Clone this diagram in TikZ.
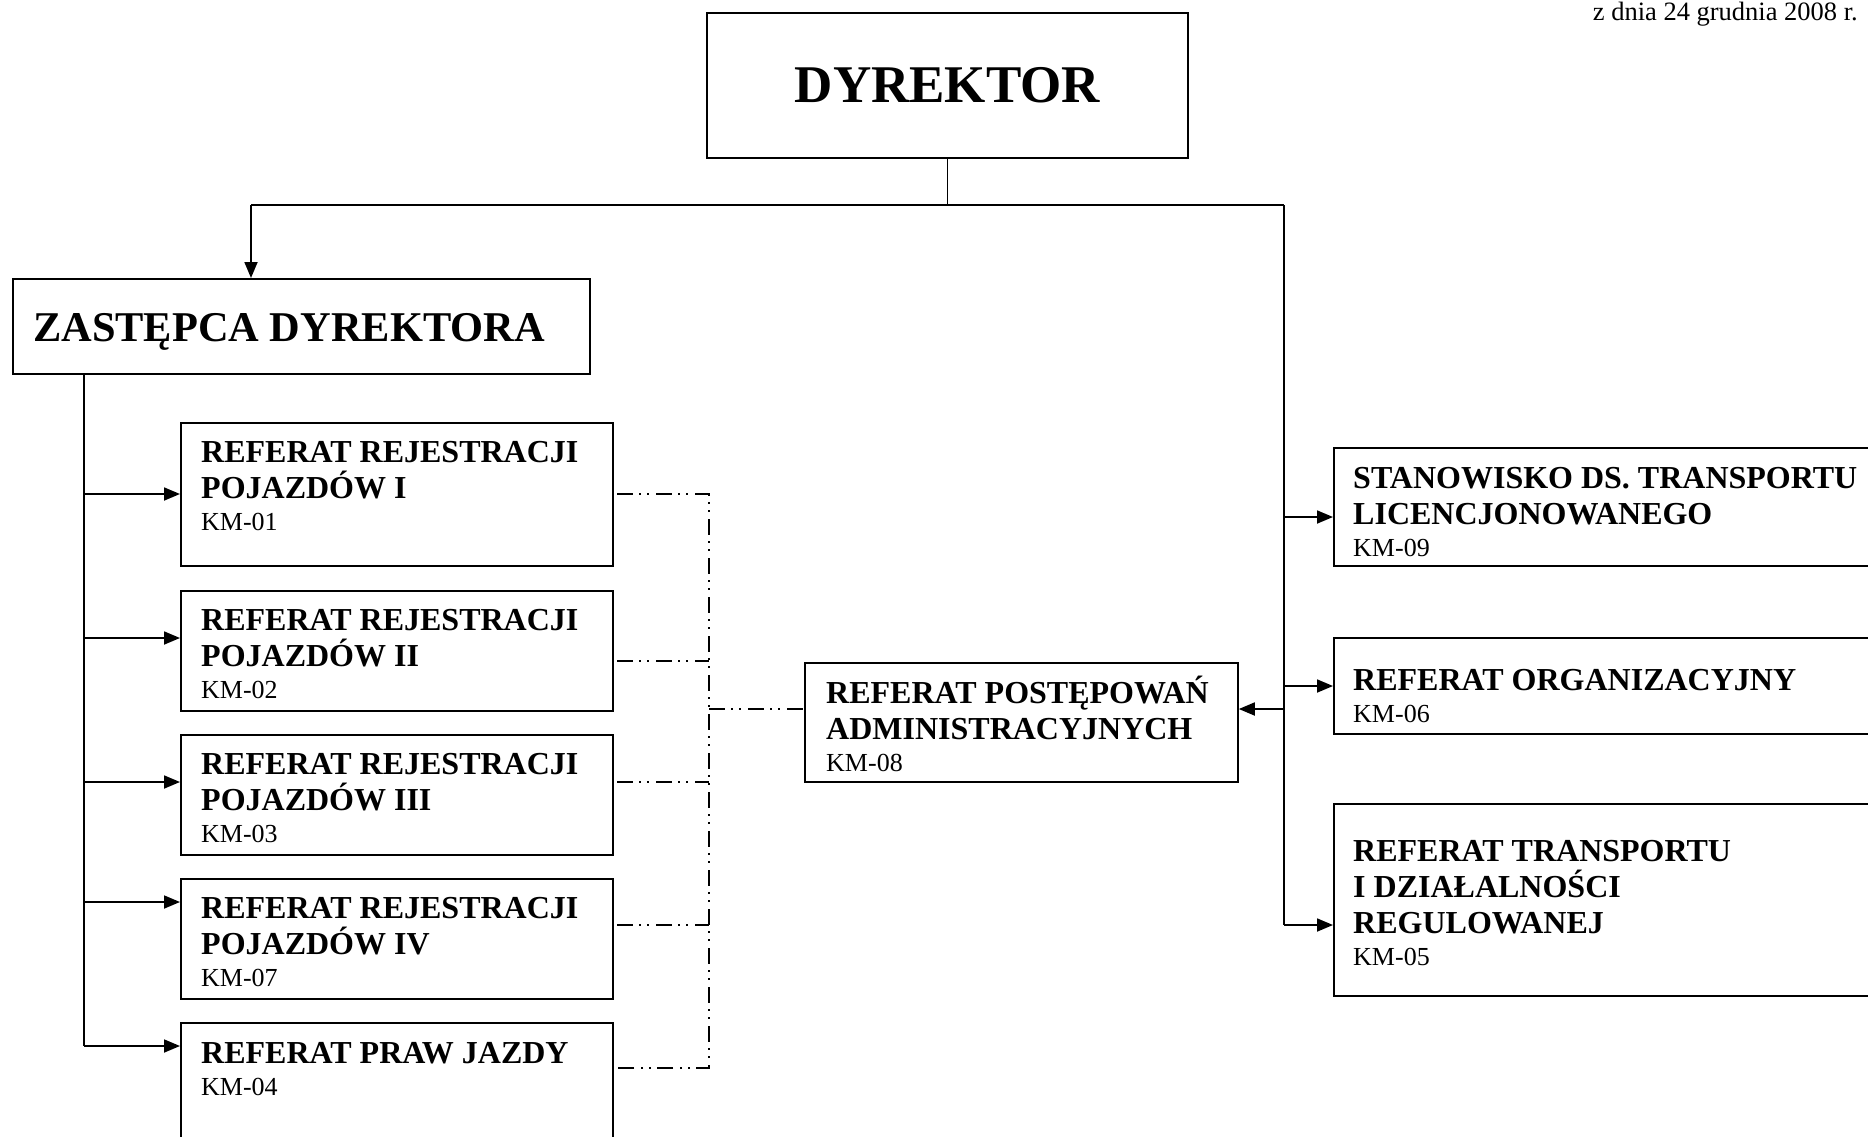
\documentclass[tikz,border=0pt]{standalone}
\usepackage{fontspec}
\setmainfont{Liberation Serif}
\usetikzlibrary{arrows.meta,calc}

\tikzset{
  box/.style={draw, line width=1.8pt, inner sep=0pt, anchor=north west},
  conn/.style={line width=1.8pt},
  arr/.style={conn, -{Triangle[length=16pt,width=13pt]}},
  dd/.style={line width=1.6pt, dash pattern=on 16pt off 6pt on 2pt off 6pt on 2pt off 7pt},
  lbl/.style={anchor=base west, inner sep=0pt, text width=560pt, align=left},
}
\newcommand{\hd}[1]{{\bfseries\fontsize{32}{36}\selectfont\spaceskip=0pt\xspaceskip=0pt #1\par}}
\newcommand{\km}[1]{{\fontsize{26}{32}\selectfont\spaceskip=0pt\xspaceskip=0pt #1\par}}

\begin{document}
\begin{tikzpicture}[x=1pt,y=-1pt]
\useasboundingbox (0,0) rectangle (1868,1137);
\clip (0,0) rectangle (1868,1137);

% header text
\node[anchor=base east, inner sep=0pt] (hdr) at (1858,21) {\fontsize{26.5}{30}\selectfont z dnia 24 grudnia 2008 r.};

% top boxes
\node[box, minimum width=481pt, minimum height=145pt] (dyr) at (706,12) {};
\node[inner sep=0pt] (dyrt) at (dyr.center) {\bfseries\fontsize{53}{60}\selectfont DYREKTOR};
\node[box, minimum width=577pt, minimum height=95pt] (zas) at (12,278) {};
\node[anchor=base west, inner sep=0pt] (zast) at (33,341) {\bfseries\fontsize{42.4}{48}\selectfont ZASTĘPCA DYREKTORA};

% left column
\node[box, minimum width=432pt, minimum height=143pt] (b1) at (180,422) {};
\node[box, minimum width=432pt, minimum height=120pt] (b2) at (180,590) {};
\node[box, minimum width=432pt, minimum height=120pt] (b3) at (180,734) {};
\node[box, minimum width=432pt, minimum height=120pt] (b4) at (180,878) {};
\node[box, minimum width=432pt, minimum height=160pt] (b5) at (180,1022) {};
\node[lbl] (t1) at ($(b1.north west)+(21,40)$) {\hd{REFERAT REJESTRACJI\\POJAZDÓW I}\km{KM-01}};
\node[lbl] (t2) at ($(b2.north west)+(21,40)$) {\hd{REFERAT REJESTRACJI\\POJAZDÓW II}\km{KM-02}};
\node[lbl] (t3) at ($(b3.north west)+(21,40)$) {\hd{REFERAT REJESTRACJI\\POJAZDÓW III}\km{KM-03}};
\node[lbl] (t4) at ($(b4.north west)+(21,40)$) {\hd{REFERAT REJESTRACJI\\POJAZDÓW IV}\km{KM-07}};
\node[lbl] (t5) at ($(b5.north west)+(21,41)$) {\hd{REFERAT PRAW JAZDY}\km{KM-04}};

% middle box
\node[box, minimum width=433pt, minimum height=119pt] (km8) at (804,662) {};
\node[lbl] (t8) at ($(km8.north west)+(22,41)$) {\hd{REFERAT POSTĘPOWAŃ\\ADMINISTRACYJNYCH}\km{KM-08}};

% right column
\node[box, minimum width=600pt, minimum height=118pt] (r1) at (1333,447) {};
\node[box, minimum width=600pt, minimum height=96pt] (r2) at (1333,637) {};
\node[box, minimum width=600pt, minimum height=192pt] (r3) at (1333,803) {};
\node[lbl] (s1) at ($(r1.north west)+(20,41)$) {\hd{STANOWISKO DS. TRANSPORTU\\LICENCJONOWANEGO}\km{KM-09}};
\node[lbl] (s2) at ($(r2.north west)+(20,53)$) {\hd{REFERAT ORGANIZACYJNY}\km{KM-06}};
\node[lbl] (s3) at ($(r3.north west)+(20,58)$) {\hd{REFERAT TRANSPORTU\\I DZIAŁALNOŚCI\\REGULOWANEJ}\km{KM-05}};

% junction coordinates
\coordinate (jL) at (251,205);
\coordinate (jR) at (1284,205);
\coordinate (lt) at (84,373);
\coordinate (lb) at (84,1046);
\coordinate (rb) at (1284,925);

% top connectors
\draw[conn] (dyr.south) -- (dyr.south |- jL);
\draw[conn] (jL) -- (jR);
\draw[arr] (jL) -- (zas.north -| jL);
\draw[conn] (jR) -- (rb);

% left trunk
\draw[conn] (lt) -- (lb);
\draw[arr] (84,494) -- (b1.west |- 84,494);
\draw[arr] (84,638) -- (b2.west |- 84,638);
\draw[arr] (84,782) -- (b3.west |- 84,782);
\draw[arr] (84,902) -- (b4.west |- 84,902);
\draw[arr] (lb) -- (b5.west |- lb);

% right trunk
\draw[arr] (1284,517) -- (r1.west |- 1284,517);
\draw[arr] (1284,686) -- (r2.west |- 1284,686);
\draw[arr] (rb) -- (r3.west |- rb);
\draw[arr] (1284,709) -- (km8.east |- 1284,709);

% dash-dot-dot connectors
\coordinate (d1) at (617,494);
\coordinate (d2) at (617,661);
\coordinate (d3) at (617,782);
\coordinate (d4) at (617,925);
\coordinate (d5) at (617,1068);
\coordinate (dv) at (709,709);
\draw[dd] (d1) -- (d1 -| dv) -- (d5 -| dv) -- (d5);
\draw[dd] (d2) -- (d2 -| dv);
\draw[dd] (d3) -- (d3 -| dv);
\draw[dd] (d4) -- (d4 -| dv);
\draw[dd] (dv) -- (km8.west |- dv);
\end{tikzpicture}
\end{document}
